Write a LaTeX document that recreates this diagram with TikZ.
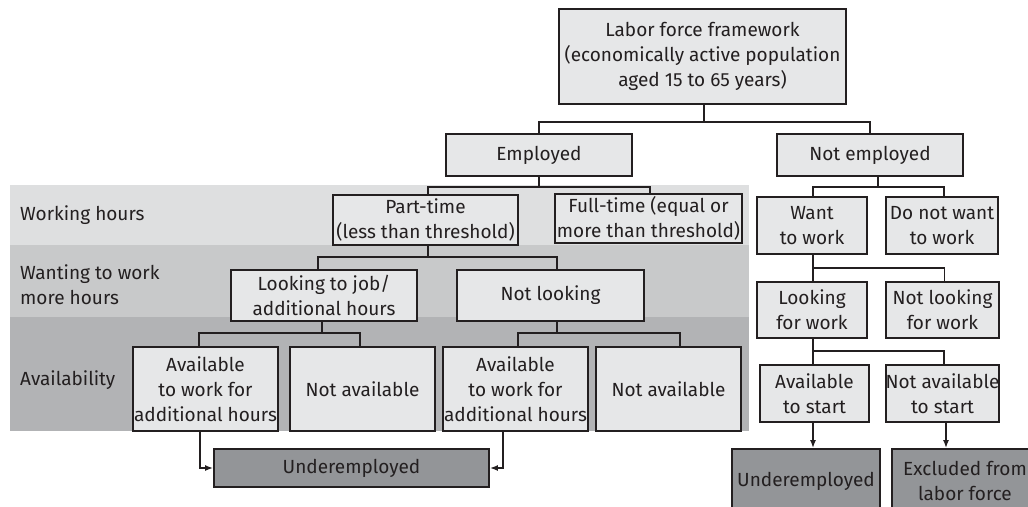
\documentclass[tikz,border=0pt]{standalone}
\usepackage{fontspec}
\setmainfont{Fira Sans}
\usetikzlibrary{arrows.meta}
\definecolor{bandA}{HTML}{DEDFE0}
\definecolor{bandB}{HTML}{C8C9CA}
\definecolor{bandC}{HTML}{B2B3B5}
\definecolor{boxfill}{HTML}{E6E7E8}
\definecolor{darkfill}{HTML}{939598}
\definecolor{linec}{HTML}{231F20}
\definecolor{textc}{HTML}{231F20}
\tikzset{
  box/.style={draw=linec, fill=boxfill, line width=1.8pt, align=center, inner sep=0pt, text=textc},
  darkbox/.style={box, fill=darkfill},
  conn/.style={draw=linec, line width=1.6pt},
  arr/.style={conn, -{Latex[length=8pt,width=6pt]}},
  rowlabel/.style={anchor=west, align=left, text=textc, inner sep=0pt},
}
\begin{document}
\begin{tikzpicture}[x=1pt,y=-1pt, font=\fontsize{19}{25}\selectfont]
\useasboundingbox (0,0) rectangle (1028,506);
\clip (0,0) rectangle (1028,506);
% bands
\fill[bandA] (10,185) rectangle (749,245);
\fill[bandB] (10,245) rectangle (749,317);
\fill[bandC] (10,317) rectangle (749,431);
\node[rowlabel] (lwh) at (20,215) {Working hours};
\node[rowlabel] (lwm) at (20,284.5) {Wanting to work\\more hours};
\node[rowlabel] (lav) at (20,380) {Availability};
% nodes
\node[box, minimum width=287pt, minimum height=95pt] (top) at (702.5,56.5) {Labor force framework\\(economically active population\\aged 15 to 65 years)};
\node[box, minimum width=186pt, minimum height=42pt] (emp) at (539,155) {Employed};
\node[box, minimum width=186pt, minimum height=42pt] (nemp) at (870,155) {Not employed};
\node[box, minimum width=185pt, minimum height=50pt] (part) at (425.5,220) {Part-time\\(less than threshold)};
\node[box, minimum width=187pt, minimum height=49pt] (full) at (648.5,218.5) {Full-time (equal or\\more than threshold)};
\node[box, minimum width=186pt, minimum height=51pt] (look) at (324,295.5) {Looking to job/\\additional hours};
\node[box, minimum width=187pt, minimum height=51pt] (nlook) at (550.5,295.5) {Not looking};
\node[box, minimum width=145pt, minimum height=84pt] (av1) at (205.5,389) {Available\\to work for\\additional hours};
\node[box, minimum width=145pt, minimum height=84pt] (na1) at (362.5,389) {Not available};
\node[box, minimum width=145pt, minimum height=84pt] (av2) at (515.5,389) {Available\\to work for\\additional hours};
\node[box, minimum width=145pt, minimum height=84pt] (na2) at (668.5,389) {Not available};
\node[darkbox, minimum width=275pt, minimum height=38pt] (und1) at (351.5,468) {Underemployed};
\node[box, minimum width=110pt, minimum height=57pt] (want) at (812,225.5) {Want\\to work};
\node[box, minimum width=112pt, minimum height=57pt] (dnw) at (942,225.5) {Do not want\\to work};
\node[box, minimum width=110pt, minimum height=56pt] (lfw) at (812,310) {Looking\\for work};
\node[box, minimum width=113pt, minimum height=56pt] (nlfw) at (942.5,310) {Not looking\\for work};
\node[box, minimum width=109pt, minimum height=57pt] (avs) at (814.5,393.5) {Available\\to start};
\node[box, minimum width=113pt, minimum height=57pt] (navs) at (942.5,393.5) {Not available\\to start};
\node[darkbox, minimum width=148pt, minimum height=64pt] (und2) at (806,481) {Underemployed};
\node[darkbox, minimum width=146pt, minimum height=64pt] (excl) at (965,481) {Excluded from\\labor force};
% connectors
\draw[conn] ([xshift=1.5pt]top.south) -- ++(0,17) -| (emp.north);
\draw[conn] ([xshift=1.5pt]top.south) ++(0,17) -| (nemp.north);
\draw[conn] (emp.south) -- ++(0,10) -| ([xshift=2.5pt]part.north);
\draw[conn] (emp.south) ++(0,10) -| ([xshift=1.5pt]full.north);
\draw[conn] ([xshift=2.5pt]part.south) -- ++(0,11) -| ([xshift=-6pt]look.north);
\draw[conn] ([xshift=2.5pt]part.south) ++(0,11) -| ([xshift=6.5pt]nlook.north);
\draw[conn] ([xshift=-2pt]look.south) -- ++(0,11) -| ([xshift=-6.5pt]av1.north);
\draw[conn] ([xshift=-2pt]look.south) ++(0,11) -| ([xshift=-2.5pt]na1.north);
\draw[conn] ([xshift=6.5pt]nlook.south) -- ++(0,11) -| ([xshift=2.5pt]av2.north);
\draw[conn] ([xshift=6.5pt]nlook.south) ++(0,11) -| ([xshift=11.5pt]na2.north);
\draw[arr] ([xshift=-5.5pt]av1.south) |- (und1.west);
\draw[arr] ([xshift=-12.5pt]av2.south) |- (und1.east);
\draw[conn] ([xshift=8pt]nemp.south) -- ++(0,10) -| ([xshift=1pt]want.north);
\draw[conn] ([xshift=8pt]nemp.south) ++(0,10) -| ([xshift=2pt]dnw.north);
\draw[conn] ([xshift=1pt]want.south) -- ++(0,13) -| ([xshift=1pt]lfw.north);
\draw[conn] ([xshift=1pt]want.south) ++(0,13) -| ([xshift=2pt]nlfw.north);
\draw[conn] ([xshift=1pt]lfw.south) -- ++(0,12) -| ([xshift=-1.5pt]avs.north);
\draw[conn] ([xshift=1pt]lfw.south) ++(0,12) -| ([xshift=1.5pt]navs.north);
\draw[arr] ([xshift=-1.5pt]avs.south) -- ([xshift=-1.5pt]avs.south |- und2.north);
\draw[arr] ([xshift=3.5pt]navs.south) -- ([xshift=3.5pt]navs.south |- excl.north);
\end{tikzpicture}
\end{document}
